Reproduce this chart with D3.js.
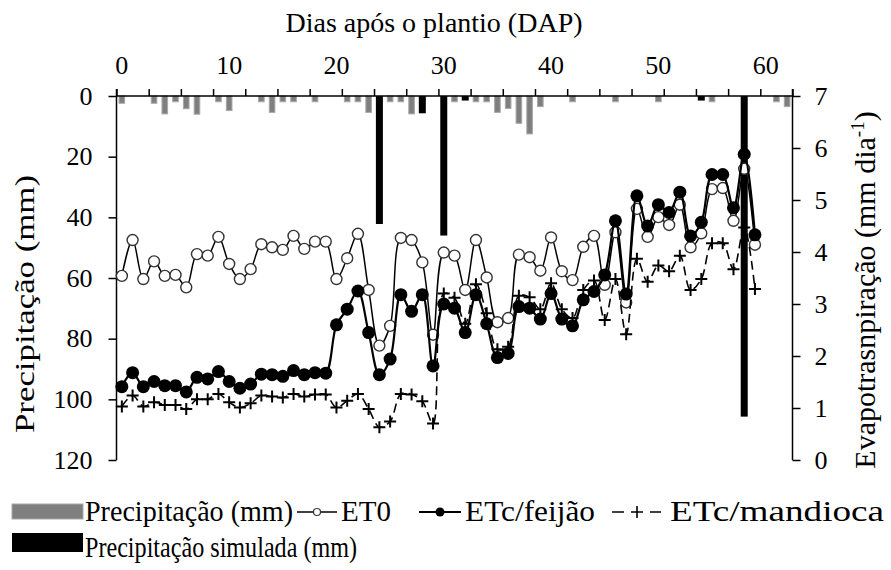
<!DOCTYPE html>
<html>
<head>
<meta charset="utf-8">
<script src="https://d3js.org/d3.v7.min.js"></script>
<style>
  body { margin: 0; background: #fff; }
  svg text { font-family: "Liberation Serif", "Times New Roman", serif; fill: #000; }
</style>
</head>
<body>
<svg id="chart"></svg>
<script>

// days after planting (DAP) for the daily ET series
var days = [0,1,2,3,4,5,6,7,8,9,10,11,12,13,14,15,16,17,18,19,
            20,21,22,23,24,25,26,27,28,29,30,31,32,33,34,35,36,37,38,39,
            40,41,42,43,44,45,46,47,48,49,50,51,52,53,54,55,56,57,58,59];

// ET0 (mm dia-1)
var et0 = [3.54,4.23,3.48,3.82,3.54,3.56,3.32,3.96,3.93,4.29,3.77,3.48,3.67,4.15,4.09,4.04,4.31,4.06,4.2,4.2,
           3.48,3.88,4.35,3.27,2.2,2.58,4.27,4.23,3.8,2.41,3.99,3.93,3.27,4.23,3.51,2.65,2.73,3.95,3.9,3.64,
           4.28,3.63,3.46,4.1,4.31,3.37,4.38,3.03,4.83,4.29,4.67,4.52,4.91,4.09,4.36,5.21,5.23,4.6,5.6,4.14];

// ETc feijao
var etcFeijao = [1.41,1.68,1.41,1.51,1.43,1.43,1.31,1.59,1.56,1.7,1.51,1.38,1.46,1.65,1.64,1.61,1.72,1.64,1.68,1.67,
                 2.6,2.9,3.25,2.45,1.64,1.94,3.18,2.86,3.18,1.81,3.0,2.92,2.45,3.18,2.62,1.97,2.05,2.95,2.92,2.71,
                 3.2,2.71,2.58,3.08,3.24,3.56,4.6,3.19,5.08,4.5,4.91,4.76,5.15,4.31,4.57,5.49,5.49,4.85,5.88,4.33];

// ETc mandioca
var etcMandioca = [1.03,1.24,1.03,1.11,1.06,1.06,0.98,1.17,1.17,1.27,1.11,1.01,1.09,1.24,1.22,1.2,1.27,1.22,1.26,1.26,
                   1.01,1.14,1.27,0.98,0.63,0.74,1.27,1.26,1.13,0.7,3.2,3.12,2.62,3.38,2.82,2.13,2.18,3.16,3.13,2.9,
                   3.4,2.9,2.73,3.27,3.45,2.69,3.48,2.42,3.87,3.43,3.74,3.63,3.93,3.27,3.48,4.17,4.17,3.67,4.47,3.29];

// natural rain (mm)
var rainDays = [0,3,4,5,6,7,9,10,13,14,15,16,18,21,22,23,25,26,27,31,33,34,35,36,37,38,39,42,46,50,55,61,62];
var rainMm   = [2.4,2.4,5.9,1.9,4.2,6.0,1.9,4.8,1.9,5.4,1.9,1.9,1.9,1.9,1.9,5.4,1.9,1.9,5.9,1.9,1.9,1.9,5.4,4.1,9.0,12.5,3.5,1.9,1.9,1.9,1.9,1.9,3.5];

// simulated rain (mm)
var simDays = [24,28,30,32,54,58];
var simMm   = [42.2,5.7,46,1.5,1.5,105.7];

// axis ticks
var dayLabels = [0,10,20,30,40,50,60];
var precipTicks = [0,20,40,60,80,100,120];
var etTicks = [0,1,2,3,4,5,6,7];

var width = 891;
var height = 570;
var mLeft = 116.5, mRight = 792.5, mTop = 96, mBottom = 460;

var svg = d3.select("#chart")
  .attr("width", width)
  .attr("height", height);

// category axis 0..62
var xScale = d3.scaleBand()
  .domain(d3.range(0, 63))
  .range([mLeft, mRight]);
var bw = xScale.bandwidth();
function cx(d){ return xScale(d) + bw / 2; }

var xEdge = d3.scaleLinear().domain([-0.5, 62.5]).range([mLeft, mRight]);

var yPrecip = d3.scaleLinear().domain([0, 120]).range([mTop, mBottom]);
var yEt = d3.scaleLinear().domain([0, 7]).range([mBottom, mTop]);

// rain bars
var rain = rainDays.map(function(d, i){ return {day: d, v: rainMm[i]}; });
svg.append("g").selectAll("rect")
  .data(rain).enter().append("rect")
  .attr("x", function(d){ return cx(d.day) - 2.8; })
  .attr("y", yPrecip(0))
  .attr("width", 5.6)
  .attr("height", function(d){ return yPrecip(d.v) - yPrecip(0); })
  .attr("fill", "#7f7f7f")
  .attr("stroke", "#a8a8a8")
  .attr("stroke-width", 1);

var sim = simDays.map(function(d, i){ return {day: d, v: simMm[i]}; });
svg.append("g").selectAll("rect")
  .data(sim).enter().append("rect")
  .attr("x", function(d){ return cx(d.day) - 3.5; })
  .attr("y", yPrecip(0))
  .attr("width", 7)
  .attr("height", function(d){ return yPrecip(d.v) - yPrecip(0); })
  .attr("fill", "#000");

// axes
var axisFont = 26;

// top axis: tick marks every 3 categories, labels every 10
var edgeTicks = [];
for (var t = -0.5; t <= 62.5; t += 3) edgeTicks.push(t);
svg.append("g")
  .attr("transform", "translate(0," + mTop + ")")
  .call(d3.axisTop(xEdge).tickValues(edgeTicks).tickSize(7).tickFormat(""))
  .call(function(g){ g.selectAll("line").attr("stroke", "#000").attr("stroke-width", 1.5); });

svg.append("g").selectAll("text")
  .data(dayLabels).enter().append("text")
  .attr("x", function(d){ return cx(d); })
  .attr("y", 73.5)
  .attr("text-anchor", "middle")
  .style("font-size", axisFont + "px")
  .text(function(d){ return d; });

svg.append("g")
  .attr("transform", "translate(" + mLeft + ",0)")
  .call(d3.axisLeft(yPrecip).tickValues(precipTicks).tickSize(8).tickPadding(16).tickFormat(d3.format("d")))
  .call(function(g){
    g.selectAll("line").attr("stroke", "#000").attr("stroke-width", 1.5);
    g.selectAll("text").style("font-size", axisFont + "px").attr("fill", "#000");
  });

svg.append("g")
  .attr("transform", "translate(" + mRight + ",0)")
  .call(d3.axisRight(yEt).tickValues(etTicks).tickSize(8).tickPadding(14).tickFormat(d3.format("d")))
  .call(function(g){
    g.selectAll("line").attr("stroke", "#000").attr("stroke-width", 1.5);
    g.selectAll("text").style("font-size", axisFont + "px").attr("fill", "#000");
  });
svg.selectAll(".domain").remove();
svg.append("line").attr("x1", mLeft).attr("x2", mRight).attr("y1", mTop).attr("y2", mTop).attr("stroke", "#000").attr("stroke-width", 1.5);
svg.append("line").attr("x1", mLeft).attr("x2", mLeft).attr("y1", mTop - 7).attr("y2", mBottom).attr("stroke", "#000").attr("stroke-width", 1.5);
svg.append("line").attr("x1", mRight).attr("x2", mRight).attr("y1", mTop - 7).attr("y2", mBottom).attr("stroke", "#000").attr("stroke-width", 1.5);

// axis titles
svg.append("text")
  .attr("x", 434).attr("y", 32)
  .attr("text-anchor", "middle")
  .style("font-size", "28px")
  .text("Dias após o plantio (DAP)");

svg.append("text")
  .attr("transform", "translate(34,304) rotate(-90)")
  .attr("text-anchor", "middle")
  .attr("textLength", 258)
  .attr("lengthAdjust", "spacingAndGlyphs")
  .style("font-size", "28px")
  .text("Precipitação (mm)");

var rt = svg.append("text")
  .attr("transform", "translate(875,290) rotate(-90)")
  .attr("text-anchor", "middle")
  .style("font-size", "30px");
rt.append("tspan").text("Evapotrasnpiração (mm dia");
rt.append("tspan").attr("dy", -11).style("font-size", "19px").text("-1");
rt.append("tspan").attr("dy", 11).text(")");

// lines
function series(vals){ return days.map(function(d, i){ return {day: d, v: vals[i]}; }); }
var line = d3.line()
  .x(function(d){ return cx(d.day); })
  .y(function(d){ return yEt(d.v); })
  .curve(d3.curveCatmullRom);

svg.append("path").datum(series(et0))
  .attr("d", line).attr("fill", "none").attr("stroke", "#000").attr("stroke-width", 1.5);
svg.append("g").selectAll("circle")
  .data(series(et0)).enter().append("circle")
  .attr("cx", function(d){ return cx(d.day); })
  .attr("cy", function(d){ return yEt(d.v); })
  .attr("r", 5.5)
  .attr("fill", "#fff").attr("stroke", "#333").attr("stroke-width", 1.4);

svg.append("path").datum(series(etcFeijao))
  .attr("d", line).attr("fill", "none").attr("stroke", "#000").attr("stroke-width", 2.2);
svg.append("g").selectAll("circle")
  .data(series(etcFeijao)).enter().append("circle")
  .attr("cx", function(d){ return cx(d.day); })
  .attr("cy", function(d){ return yEt(d.v); })
  .attr("r", 6.5)
  .attr("fill", "#000");

svg.append("path").datum(series(etcMandioca))
  .attr("d", line).attr("fill", "none").attr("stroke", "#000").attr("stroke-width", 1.6)
  .attr("stroke-dasharray", "9,5");
svg.append("g").selectAll("path")
  .data(series(etcMandioca)).enter().append("path")
  .attr("d", function(d){
    var x = cx(d.day), y = yEt(d.v);
    return "M" + (x - 6) + "," + y + "H" + (x + 6) + "M" + x + "," + (y - 6) + "V" + (y + 6);
  })
  .attr("stroke", "#000").attr("stroke-width", 2);

// legend
var lg = svg.append("g").style("font-size", "29px");
lg.append("rect").attr("x", 12).attr("y", 504).attr("width", 71).attr("height", 15)
  .attr("fill", "#7f7f7f").attr("stroke", "#a8a8a8");
lg.append("text").attr("x", 85).attr("y", 521).text("Precipitação (mm)")
  .attr("textLength", 208).attr("lengthAdjust", "spacingAndGlyphs");

lg.append("line").attr("x1", 297).attr("x2", 337).attr("y1", 512).attr("y2", 512).attr("stroke", "#000").attr("stroke-width", 1.5);
lg.append("circle").attr("cx", 317).attr("cy", 512).attr("r", 3.5).attr("fill", "#fff").attr("stroke", "#333").attr("stroke-width", 1.2);
lg.append("text").attr("x", 341).attr("y", 521).text("ET0");

lg.append("line").attr("x1", 419).attr("x2", 461).attr("y1", 512).attr("y2", 512).attr("stroke", "#000").attr("stroke-width", 2);
lg.append("circle").attr("cx", 440).attr("cy", 512).attr("r", 4.5).attr("fill", "#000");
lg.append("text").attr("x", 465).attr("y", 521).text("ETc/feijão")
  .attr("textLength", 130).attr("lengthAdjust", "spacingAndGlyphs");

lg.append("path").attr("d", "M612,512H624M650,512H661M631,512H643M637,506V518")
  .attr("stroke", "#000").attr("stroke-width", 1.6);
lg.append("text").attr("x", 670).attr("y", 521).text("ETc/mandioca")
  .attr("textLength", 214).attr("lengthAdjust", "spacingAndGlyphs");

lg.append("rect").attr("x", 12).attr("y", 533).attr("width", 71).attr("height", 19).attr("fill", "#000");
lg.append("text").attr("x", 85).attr("y", 557).text("Precipitação simulada (mm)")
  .attr("textLength", 272).attr("lengthAdjust", "spacingAndGlyphs");

</script>
</body>
</html>
